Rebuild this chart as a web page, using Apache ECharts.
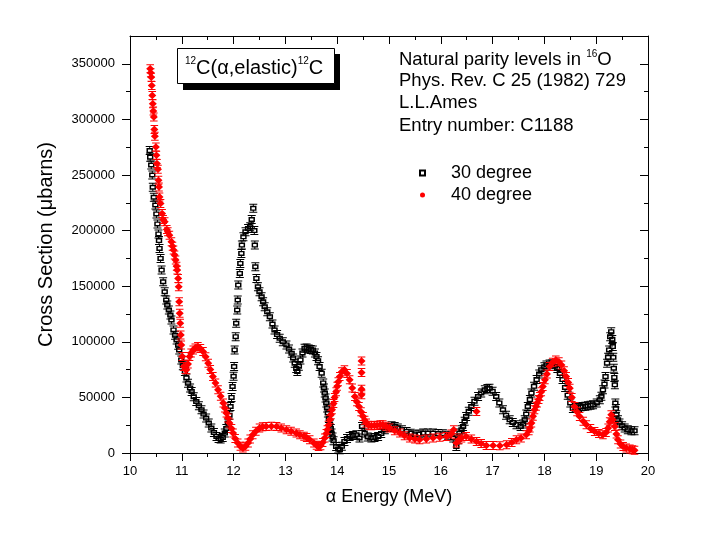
<!DOCTYPE html>
<html>
<head>
<meta charset="utf-8">
<script src="https://cdn.jsdelivr.net/npm/echarts@6/dist/echarts.min.js"></script>
<style>
html,body{margin:0;padding:0;background:#fff;}
#chart{width:720px;height:540px;}
</style>
</head>
<body>
<div id="chart"></div>
<script>
// ---- data ----
const e30 = [10.38,10.39,10.41,10.43,10.44,10.46,10.49,10.51,10.53,10.55,10.56,10.57,10.59,10.61,10.64,10.67,10.70,10.72,10.75,10.78,10.80,10.84,10.87,10.90,10.93,10.95,10.99,11.02,11.06,11.09,11.12,11.16,11.19,11.23,11.28,11.33,11.38,11.42,11.47,11.52,11.57,11.62,11.67,11.71,11.75,11.79,11.83,11.86,11.89,11.92,11.94,11.96,11.98,12.00,12.01,12.02,12.04,12.05,12.07,12.08,12.09,12.12,12.13,12.15,12.16,12.19,12.23,12.28,12.32,12.35,12.38,12.40,12.41,12.42,12.44,12.47,12.50,12.54,12.57,12.60,12.65,12.70,12.75,12.79,12.84,12.89,12.95,13.02,13.07,13.12,13.15,13.18,13.21,13.23,13.26,13.29,13.33,13.37,13.41,13.45,13.49,13.53,13.57,13.60,13.63,13.66,13.70,13.73,13.745,13.76,13.775,13.79,13.805,13.82,13.84,13.86,13.875,13.89,13.91,13.93,13.98,14.02,14.05,14.09,14.14,14.19,14.24,14.30,14.37,14.43,14.48,14.53,14.59,14.66,14.72,14.79,14.85,14.92,14.98,15.05,15.11,15.17,15.25,15.34,15.42,15.50,15.58,15.66,15.75,15.85,15.95,16.04,16.14,16.24,16.30,16.33,16.36,16.40,16.43,16.46,16.49,16.54,16.59,16.65,16.72,16.78,16.85,16.90,16.94,17.00,17.07,17.13,17.20,17.26,17.33,17.39,17.46,17.54,17.59,17.62,17.65,17.68,17.72,17.75,17.80,17.85,17.90,17.94,18.00,18.04,18.10,18.15,18.20,18.25,18.30,18.35,18.40,18.45,18.50,18.55,18.60,18.65,18.70,18.74,18.79,18.84,18.89,18.94,19.01,19.07,19.10,19.13,19.16,19.18,19.21,19.23,19.25,19.27,19.29,19.31,19.32,19.33,19.34,19.35,19.36,19.37,19.38,19.39,19.42,19.45,19.50,19.55,19.61,19.68,19.74];
const v30 = [272000,266000,259000,250000,239000,230000,223000,215000,206000,197000,191000,184000,175000,164500,154000,145000,137600,133000,128600,124000,119600,110700,106000,101700,97000,92700,83700,78500,73200,67500,62800,58500,55300,50500,46300,42500,38900,35000,31400,27000,22400,18500,14900,13000,12600,14000,17900,22000,26900,34000,41800,50000,59800,69000,77700,92700,104600,116700,128600,137600,151000,161500,170500,179500,187000,194400,198900,201900,203400,210000,220000,200000,187000,167500,157000,149500,145000,140500,136000,131600,127000,122600,116000,110700,106500,103200,100000,97200,93500,89700,85500,80800,76000,73200,78000,83700,90000,94200,94500,93500,93000,92700,90000,86700,83000,77700,71800,63000,58500,53900,49500,45000,40500,35900,31000,26000,22000,17900,14500,11000,5900,3500,3000,6000,10400,13000,14900,15800,16400,13500,23900,17900,14500,13500,14000,14900,17500,20900,23000,24500,23800,22400,21000,19400,17800,16400,17000,17900,18000,17900,17500,17300,16000,13500,5900,12000,17900,21000,23900,28500,32900,37500,41800,46500,50800,54000,56800,58000,58300,55500,50800,45000,38900,34000,29900,27500,25400,23900,26000,29900,35000,41800,48000,53900,60000,66000,71000,74800,77500,79200,80000,80000,78000,76000,71500,66000,59000,52000,45000,40000,40500,41000,41500,41800,42000,42500,43000,43300,45000,47800,51000,56800,62000,68700,80800,86000,92700,104600,109100,102000,95700,86000,76200,68000,61300,44900,40000,34400,30000,26900,24500,22400,21000,20000,20000];

const e40 = [10.39,10.40,10.41,10.42,10.43,10.44,10.45,10.46,10.47,10.48,10.50,10.51,10.52,10.54,10.55,10.56,10.57,10.59,10.62,10.64,10.67,10.71,10.73,10.76,10.80,10.82,10.84,10.86,10.88,10.90,10.91,10.93,10.94,10.95,10.96,10.97,10.98,10.99,11.01,11.04,11.07,11.09,11.12,11.15,11.18,11.22,11.26,11.31,11.36,11.41,11.46,11.51,11.55,11.60,11.65,11.70,11.75,11.80,11.83,11.86,11.89,11.92,11.96,11.99,12.03,12.08,12.13,12.18,12.23,12.28,12.32,12.37,12.43,12.50,12.56,12.63,12.73,12.83,12.92,13.02,13.11,13.21,13.28,13.36,13.41,13.47,13.55,13.60,13.64,13.68,13.72,13.76,13.79,13.81,13.83,13.86,13.88,13.90,13.93,13.95,13.98,14.00,14.02,14.05,14.09,14.14,14.19,14.24,14.29,14.34,14.38,14.42,14.46,14.47,14.47,14.47,14.47,14.50,14.53,14.56,14.61,14.66,14.72,14.77,14.83,14.88,14.94,15.01,15.11,15.21,15.30,15.40,15.50,15.59,15.72,15.85,15.98,16.11,16.20,16.25,16.30,16.35,16.40,16.49,16.59,16.69,16.69,16.78,16.88,17.01,17.14,17.27,17.37,17.46,17.55,17.65,17.70,17.72,17.75,17.78,17.81,17.84,17.86,17.89,17.91,17.94,17.97,18.01,18.05,18.10,18.16,18.22,18.28,18.33,18.38,18.42,18.46,18.49,18.53,18.58,18.63,18.68,18.75,18.81,18.89,18.97,19.05,19.13,19.19,19.23,19.26,19.29,19.32,19.36,19.39,19.42,19.47,19.52,19.58,19.65,19.70,19.74];
const v40 = [345500,342000,338000,330500,321600,314100,307500,302100,291000,284800,275200,267700,260300,255200,245300,239300,230300,224400,215400,210000,207900,201000,199000,195900,190000,186000,182500,178000,173500,168000,164500,157000,149500,136000,125600,116700,106200,97200,86700,77700,75000,74800,80000,86700,90000,92700,94500,95700,94000,91200,86500,80800,75000,68700,63000,56800,51000,44900,40500,35900,31500,26900,22000,17900,13000,9000,6000,4500,6000,9000,12500,16400,19500,22400,23500,23900,24000,23900,22500,20900,19500,17900,16400,15000,14000,11900,9000,7000,5900,6500,9500,13500,17500,21000,25000,30000,34500,39000,44500,50000,55000,60000,64000,68700,73000,74800,71500,65800,58500,50800,46000,41800,37000,82800,72300,57400,52300,32900,29500,26900,25000,24500,24800,25000,25300,25400,24000,22400,20000,17900,15500,13500,12500,11900,12500,13500,14200,14900,17000,20900,9000,12000,13500,14900,12500,10400,37300,8500,6800,6800,6500,7400,9500,11900,13500,16400,20000,22400,26900,33000,38900,42000,45000,48000,50800,55000,59800,65800,71000,77700,81500,83700,82000,79200,74000,68700,63500,58300,50000,41800,37000,32900,28500,25400,22000,19400,17500,16400,18500,22400,28000,34400,30000,23900,17000,11900,8000,5900,4500,3600,3000,2400];

const seriesNames = ['30 degree', '40 degree'];
const xMin = 10, xMax = 20, xStep = 1;
const yMajor = [0,50000,100000,150000,200000,250000,300000,350000];
const yMinor = [25000,75000,125000,175000,225000,275000,325000];
const yMax = 375000;

// ---- chart ----
const FONT = "'Liberation Sans', Arial, sans-serif";
const chart = echarts.init(document.getElementById('chart'), null, {renderer: 'canvas'});

// marker shapes: open square with error caps (black), filled diamond with error caps (red)
const symBlack = 'path://M0,0H8V1H0Z M0,8H8V9H0Z M3.5,1H4.5V2H3.5Z M3.5,7H4.5V8H3.5Z M0.8,2H7.2V7H0.8Z M2.3,3.4V5.6H5.7V3.4Z';
const symRed = 'path://M0.5,0H7.5V1H0.5Z M0.5,8H7.5V9H0.5Z M3.5,1H4.5V8H3.5Z M4,0.7L7.7,4.5L4,8.3L0.3,4.5Z';

const axisLineStyle = {color: '#000', width: 1};
const gridBox = {left: 130, right: 72, top: 36, bottom: 87};

const option = {
  backgroundColor: '#fff',
  animation: false,
  grid: Object.assign({containLabel: false}, gridBox),
  legend: {
    orient: 'vertical',
    left: 414, top: 159,
    itemWidth: 5, itemHeight: 5,
    itemGap: 4,
    textStyle: {fontFamily: FONT, fontSize: 18, color: '#000', lineHeight: 18, padding: [0, 0, 0, 21]},
    data: [{name: seriesNames[0], icon: 'emptyRect'}, {name: seriesNames[1], icon: 'circle'}]
  },
  xAxis: [{
    type: 'value', min: xMin, max: xMax, interval: xStep, position: 'bottom',
    axisLine: {show: true, onZero: false, lineStyle: axisLineStyle},
    axisTick: {show: true, length: 8, lineStyle: axisLineStyle},
    minorTick: {show: true, splitNumber: 2, length: 4, lineStyle: axisLineStyle},
    splitLine: {show: false},
    axisLabel: {fontFamily: FONT, fontSize: 13, color: '#000', margin: 12},
    name: 'α Energy (MeV)', nameLocation: 'middle', nameGap: 35,
    nameTextStyle: {fontFamily: FONT, fontSize: 18, color: '#000'}
  }, {
    type: 'value', min: xMin, max: xMax, interval: xStep, position: 'top',
    axisLine: {show: true, onZero: false, lineStyle: axisLineStyle},
    axisTick: {show: true, inside: true, length: 8, lineStyle: axisLineStyle},
    minorTick: {show: true, splitNumber: 2, length: 4, lineStyle: axisLineStyle},
    splitLine: {show: false},
    axisLabel: {show: false}
  }],
  yAxis: [{
    type: 'value', min: 0, max: yMax, position: 'left',
    axisLine: {show: true, onZero: false, lineStyle: axisLineStyle},
    axisTick: {show: true, length: 8, customValues: yMajor, lineStyle: axisLineStyle},
    axisLabel: {fontFamily: FONT, fontSize: 13, color: '#000', margin: 15, customValues: yMajor,
      formatter: v => String(v)},
    splitLine: {show: false},
    name: 'Cross Section (μbarns)', nameLocation: 'middle', nameGap: 74,
    nameTextStyle: {fontFamily: FONT, fontSize: 20, color: '#000'}
  }, {
    type: 'value', min: 0, max: yMax, position: 'left',
    axisLine: {show: false},
    axisTick: {show: true, length: 4, customValues: yMinor, lineStyle: axisLineStyle},
    axisLabel: {show: false},
    splitLine: {show: false}
  }, {
    type: 'value', min: 0, max: yMax, position: 'right',
    axisLine: {show: true, onZero: false, lineStyle: axisLineStyle},
    axisTick: {show: true, inside: true, length: 8, customValues: yMajor, lineStyle: axisLineStyle},
    axisLabel: {show: false},
    splitLine: {show: false}
  }, {
    type: 'value', min: 0, max: yMax, position: 'right',
    axisLine: {show: false},
    axisTick: {show: true, inside: true, length: 4, customValues: yMinor, lineStyle: axisLineStyle},
    axisLabel: {show: false},
    splitLine: {show: false}
  }],
  series: [{
    name: seriesNames[0], type: 'scatter', xAxisIndex: 0, yAxisIndex: 0,
    symbol: symBlack, symbolSize: [8, 9],
    itemStyle: {color: '#000', opacity: 1},
    data: e30.map((e, i) => [e, v30[i]])
  }, {
    name: seriesNames[1], type: 'scatter', xAxisIndex: 0, yAxisIndex: 0,
    symbol: symRed, symbolSize: [8, 9],
    itemStyle: {color: '#ff0000', opacity: 1},
    data: e40.map((e, i) => [e, v40[i]])
  }],
  graphic: [
    {type: 'rect', z: 10, shape: {x: 183, y: 54, width: 157, height: 36}, style: {fill: '#000'}},
    {type: 'rect', z: 11, shape: {x: 177.5, y: 48.5, width: 157, height: 35}, style: {fill: '#fff', stroke: '#000', lineWidth: 1}},
    {type: 'text', z: 12, x: 185, y: 68, style: {
      text: '{s|12}{m|C(α,elastic)}{s|12}{m|C}',
      verticalAlign: 'middle', fill: '#000',
      rich: {
        s: {fontFamily: FONT, fontSize: 10, verticalAlign: 'top', lineHeight: 7.4},
        m: {fontFamily: FONT, fontSize: 20, lineHeight: 24}
      }
    }},
    {type: 'text', z: 12, x: 399, y: 60, style: {
      text: '{m|Natural parity levels in }{s|16}{m|O}',
      verticalAlign: 'middle', fill: '#000',
      rich: {
        s: {fontFamily: FONT, fontSize: 10, verticalAlign: 'top', lineHeight: 10},
        m: {fontFamily: FONT, fontSize: 18.5, lineHeight: 22}
      }
    }},
    {type: 'text', z: 12, x: 399, y: 80.5, style: {text: 'Phys. Rev. C 25 (1982) 729', font: '18.5px ' + FONT, verticalAlign: 'middle', fill: '#000'}},
    {type: 'text', z: 12, x: 399, y: 103, style: {text: 'L.L.Ames', font: '18.5px ' + FONT, verticalAlign: 'middle', fill: '#000'}},
    {type: 'text', z: 12, x: 399, y: 125.5, style: {text: 'Entry number: C1188', font: '18.5px ' + FONT, verticalAlign: 'middle', fill: '#000'}}
  ]
};
chart.setOption(option);
</script>
</body>
</html>
